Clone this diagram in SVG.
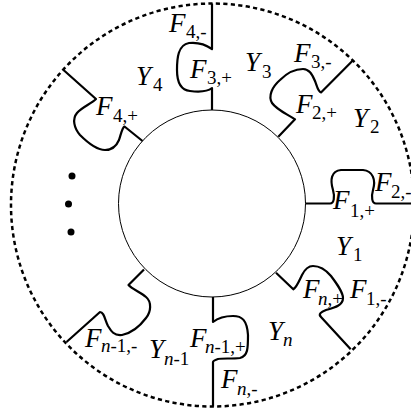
<svg xmlns="http://www.w3.org/2000/svg" width="411" height="411" viewBox="0 0 411 411">
<style>
.bd{fill:none;stroke:#000;stroke-width:2.2;stroke-linejoin:round;stroke-linecap:butt}
.outer{fill:none;stroke:#000;stroke-width:2.5;stroke-dasharray:4.2 3.3}
.inner{fill:none;stroke:#000;stroke-width:1}
text{font-family:"Liberation Serif","Times New Roman",serif;font-size:27px;fill:#000}
.i{font-style:italic}
.s{font-size:19px}
</style>
<rect width="411" height="411" fill="#fff"/>
<g id="outer-ring"><circle class="outer" cx="212.5" cy="205" r="201.5"/></g>
<g id="inner-disc"><circle class="inner" cx="212" cy="203.5" r="93.5"/></g>
<g id="connectors">
<path id="bA" class="bd" d="M212,110 L212,88 C207,92 198,92 190,91 C180,90 177,82 177,70 C177,58 178,45 189,43 C198,42 205,44 212,49 L212,3.5"/>
<path id="bB" class="bd" d="M278.3,136.7 L295,119.3 C287,114 277,110 272,103 C268,96 272,87 280,80 C286,74 295,69 303,69 C310,69 313,76 315,81 C317,86 318,92 321,92.5 L353.3,60"/>
<path id="bC" class="bd" d="M305.5,203.5 L330,203.5 C334,203.5 335,197 333,190 C330,180 331,171 341,170 L363,170 C373,171 376,180 373,190 C371,197 372,203.5 376,203.5 L411,203.5"/>
<path id="bD" class="bd" d="M276,272.7 L293.3,289.3 C297,287 299,281 302,275 C305,269 308,266 313,266 C320,266 326,270 331,276 C337,284 343,292 343,298 C343,306 333,308 326,310 C321,312 318,314 321,317 L350.7,349.3"/>
<path id="bE" class="bd" d="M213,297 L213,322 C218,318 226,316 233,316 C242,316 247,320 248,335 C248,348 248,356 240,358 C232,359 222,358 218,359 C215,360 213,361 213,362 L213,406.5"/>
<path id="bF" class="bd" d="M144,269.5 L128.5,285 C132,289 140,292 146,297 C152,302 151,312 146,318 C140,326 132,333 122,335 C114,336 111,331 108,326 C105,320 104,312 100,312 L66.5,342"/>
<path id="bG" class="bd" d="M142.5,141 L124.5,126.5 C122,128 121,134 119,140 C116,147 112,150 105,150 C97,150 88,143 80,135 C74,128 72,119 77,113 C82,107 91,104 96,99 L63.5,70"/>
</g>
<g id="dots">
<circle cx="72" cy="176" r="3.5"/>
<circle cx="68.5" cy="204" r="3.5"/>
<circle cx="71" cy="232" r="3.5"/>
</g>
<g id="labels">
<text x="169" y="32"><tspan class="i">F</tspan><tspan class="s" x="186" y="38">4,-</tspan></text>
<text x="190" y="78"><tspan class="i">F</tspan><tspan class="s" x="207" y="84">3,+</tspan></text>
<text x="136" y="85"><tspan class="i">Y</tspan><tspan class="s" x="153" y="91">4</tspan></text>
<text x="245" y="71"><tspan class="i">Y</tspan><tspan class="s" x="262" y="78">3</tspan></text>
<text x="294" y="62"><tspan class="i">F</tspan><tspan class="s" x="311" y="68">3,-</tspan></text>
<text x="296" y="113"><tspan class="i">F</tspan><tspan class="s" x="312" y="119">2,+</tspan></text>
<text x="353" y="127"><tspan class="i">Y</tspan><tspan class="s" x="370" y="133">2</tspan></text>
<text x="375" y="191"><tspan class="i">F</tspan><tspan class="s" x="391" y="198">2,-</tspan></text>
<text x="333" y="209"><tspan class="i">F</tspan><tspan class="s" x="350" y="217">1,+</tspan></text>
<text x="336" y="255"><tspan class="i">Y</tspan><tspan class="s" x="353" y="261">1</tspan></text>
<text x="350" y="298"><tspan class="i">F</tspan><tspan class="s" x="366" y="305">1,-</tspan></text>
<text x="303" y="298"><tspan class="i">F</tspan><tspan class="s i" x="318" y="305">n</tspan><tspan class="s">,+</tspan></text>
<text x="268" y="340"><tspan class="i">Y</tspan><tspan class="s i" x="283" y="346">n</tspan></text>
<text x="190" y="347"><tspan class="i">F</tspan><tspan class="s i" x="205" y="353">n</tspan><tspan class="s">-1,+</tspan></text>
<text x="221" y="388"><tspan class="i">F</tspan><tspan class="s i" x="237" y="395">n</tspan><tspan class="s">,-</tspan></text>
<text x="149" y="358"><tspan class="i">Y</tspan><tspan class="s i" x="164" y="365">n</tspan><tspan class="s">-1</tspan></text>
<text x="85" y="347"><tspan class="i">F</tspan><tspan class="s i" x="101" y="352">n</tspan><tspan class="s">-1,-</tspan></text>
<text x="96" y="115"><tspan class="i">F</tspan><tspan class="s" x="113" y="122">4,+</tspan></text>
</g>
</svg>
